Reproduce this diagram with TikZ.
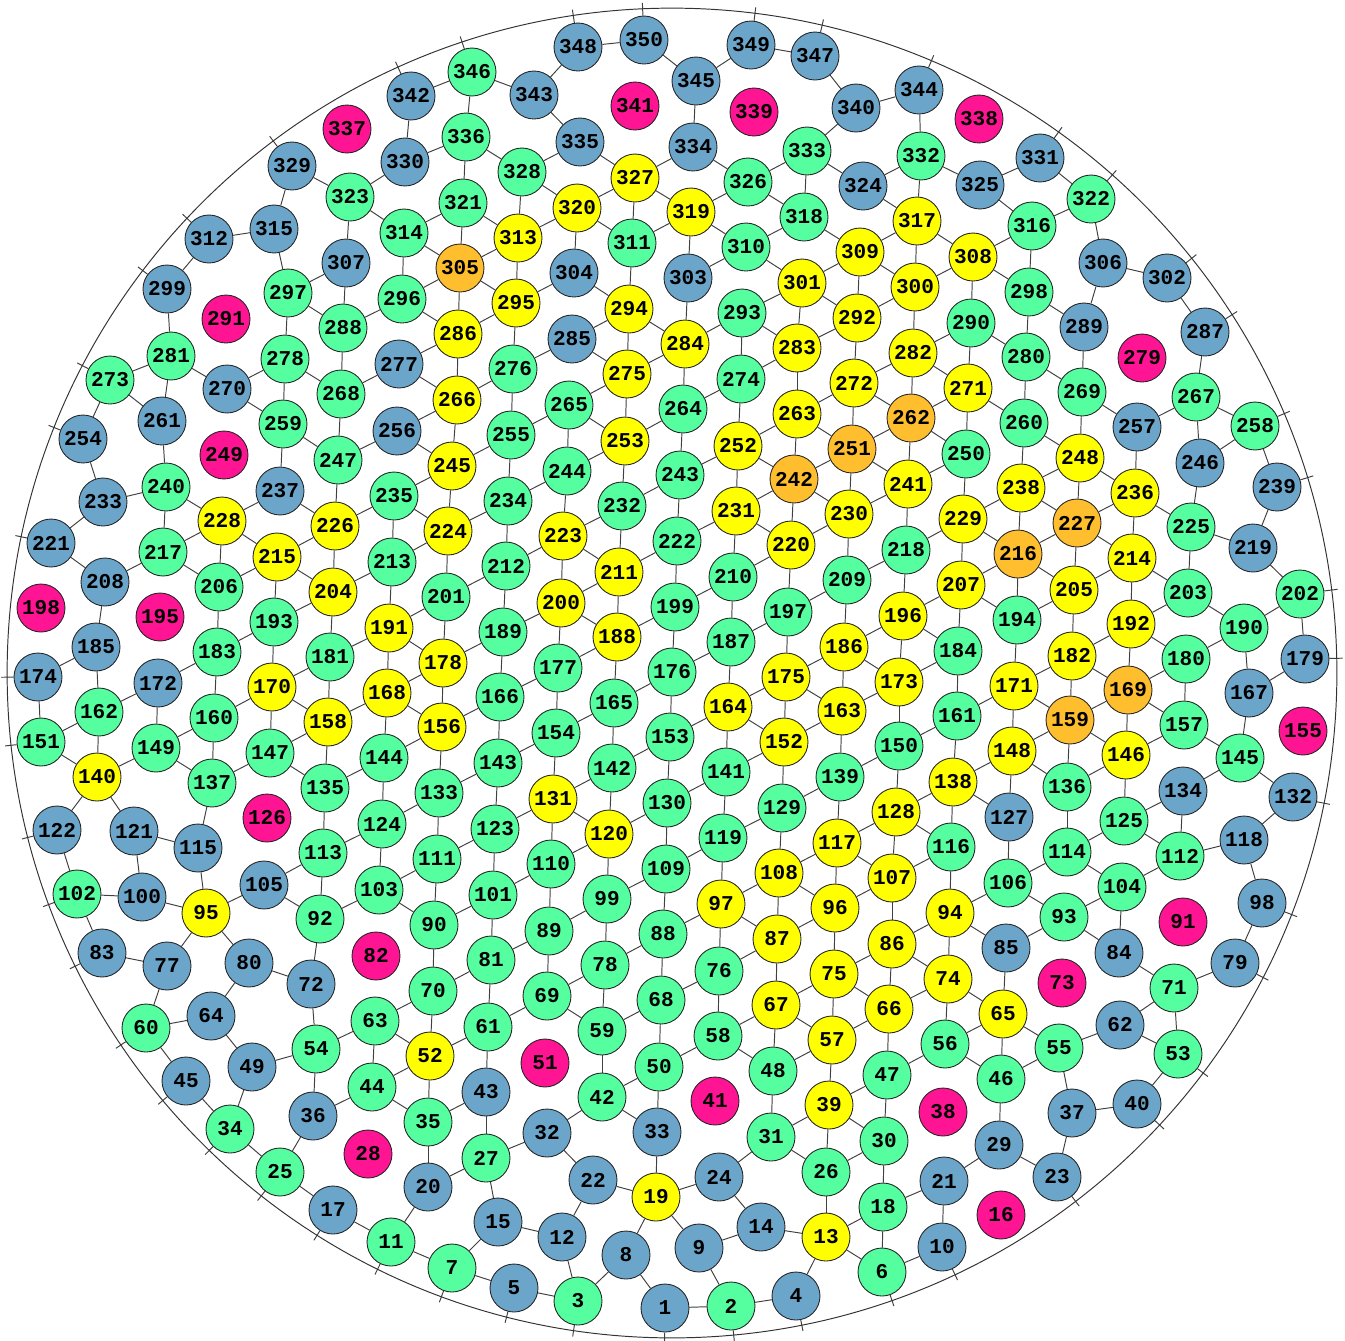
\documentclass[tikz,border=0pt]{standalone}
\usepackage{fontspec}
\setmonofont{Liberation Mono}
\usetikzlibrary{calc,backgrounds}
\definecolor{cb}{RGB}{108,165,202}
\definecolor{cg}{RGB}{85,255,160}
\definecolor{cy}{RGB}{255,255,0}
\definecolor{co}{RGB}{255,190,45}
\definecolor{cm}{RGB}{255,20,147}
\begin{document}
\begin{tikzpicture}[x=0.02cm,y=-0.02cm,
  disc/.style={circle,draw=black!85,line width=0.5pt,minimum size=0.96cm,inner sep=0pt,font=\ttfamily\bfseries\fontsize{12}{12}\selectfont},
  link/.style={draw=black!75,line width=0.55pt}]
\useasboundingbox (0,0) rectangle (1345,1340);
\coordinate (O) at (672,673);
\draw[black!80,line width=0.55pt] (O) circle[radius=13.3cm];
% discs, numbered from the bottom up
\foreach \n/\x/\y/\c in {1/665/1308/b,2/731/1306/g,3/578/1301/g,4/796/1296/b,5/514/1288/b,6/882/1272/g,7/452/1268/g,8/626/1255/b,9/699/1248/b,10/942/1247/b,
11/391/1242/g,12/562/1237/b,13/826/1237/y,14/761/1227/b,15/498/1222/b,16/1001/1215/m,17/333/1210/b,18/883/1207/g,19/656/1197/y,20/428/1187/b,
21/944/1181/b,22/593/1180/b,23/1057/1177/b,24/719/1177/b,25/280/1172/g,26/826/1172/g,27/486/1158/g,28/368/1154/m,29/999/1145/b,30/884/1141/g,
31/771/1137/g,32/547/1133/b,33/657/1132/b,34/230/1129/g,35/428/1122/g,36/313/1116/b,37/1072/1113/b,38/943/1112/m,39/829/1105/y,40/1137/1104/b,
41/715/1101/m,42/602/1097/g,43/486/1092/b,44/372/1087/g,45/186/1081/b,46/1001/1079/g,47/887/1075/g,48/773/1071/g,49/252/1067/b,50/659/1067/g,
51/545/1063/m,52/430/1056/y,53/1178/1054/g,54/316/1049/g,55/1059/1048/g,56/945/1044/g,57/832/1040/y,58/718/1036/g,59/602/1031/g,60/146/1028/g,
61/488/1027/g,62/1120/1025/b,63/375/1021/g,64/211/1016/b,65/1003/1014/y,66/889/1009/y,67/776/1005/y,68/661/1000/g,69/547/996/g,70/433/991/g,
71/1174/988/g,72/311/984/b,73/1062/983/m,74/948/979/y,75/834/974/y,76/719/971/g,77/167/966/b,78/605/965/g,79/1235/963/b,80/249/963/b,
81/491/960/g,82/376/956/m,83/102/953/b,84/1119/953/b,85/1006/948/b,86/892/944/y,87/777/939/y,88/663/934/g,89/549/931/g,90/434/925/g,
91/1183/922/m,92/320/919/g,93/1064/917/g,94/950/913/y,95/206/913/y,96/835/908/y,97/721/904/y,98/1262/903/b,99/607/899/g,100/142/897/b,
101/493/895/g,102/77/894/g,103/379/890/g,104/1122/887/g,105/264/885/b,106/1008/883/g,107/892/878/y,108/779/873/y,109/666/869/g,110/551/864/g,
111/437/859/g,112/1180/856/g,113/323/853/g,114/1067/852/g,115/198/848/b,116/951/847/g,117/837/843/y,118/1244/840/b,119/723/838/g,120/609/834/y,
121/134/831/b,122/57/830/b,123/495/829/g,124/382/824/g,125/1124/821/g,126/267/818/m,127/1009/817/b,128/896/812/y,129/782/808/g,130/667/803/g,
131/553/799/y,132/1293/797/b,133/439/793/g,134/1183/791/b,135/325/788/g,136/1067/787/g,137/212/783/g,138/953/782/y,139/840/777/g,140/97/777/y,
141/726/772/g,142/612/768/g,143/498/763/g,144/384/758/g,145/1240/758/g,146/1126/755/y,147/270/753/g,148/1012/751/y,149/156/748/g,150/899/746/g,
151/41/742/g,152/784/742/y,153/670/737/g,154/556/733/g,155/1303/731/m,156/442/727/y,157/1184/725/g,158/328/722/y,159/1070/720/o,160/214/718/g,
161/957/716/g,162/99/712/g,163/842/711/y,164/728/707/y,165/614/703/g,166/500/697/g,167/1249/693/b,168/387/693/y,169/1128/690/o,170/272/687/y,
171/1014/686/y,172/158/683/b,173/899/682/y,174/38/677/b,175/786/677/y,176/672/672/g,177/558/668/g,178/443/663/y,179/1305/659/b,180/1186/659/g,
181/330/657/g,182/1072/656/y,183/217/652/g,184/958/651/g,185/96/647/b,186/844/647/y,187/731/642/g,188/617/637/y,189/503/632/g,190/1244/628/g,
191/389/628/y,192/1131/624/y,193/274/622/g,194/1017/620/g,195/160/617/m,196/903/616/y,197/788/612/g,198/41/608/m,199/675/607/g,200/561/603/y,
201/446/597/g,202/1300/594/g,203/1188/593/g,204/333/592/y,205/1074/590/y,206/219/587/g,207/961/585/y,208/105/582/b,209/847/580/g,210/733/577/g,
211/619/572/y,212/506/566/g,213/392/562/g,214/1132/558/y,215/277/557/y,216/1018/554/o,217/163/552/g,218/906/550/g,219/1253/548/b,220/791/545/y,
221/51/543/b,222/677/541/g,223/563/536/y,224/448/531/y,225/1191/527/g,226/335/526/y,227/1077/523/o,228/222/521/y,229/963/519/y,230/849/514/y,
231/736/511/y,232/622/506/g,233/103/502/b,234/508/501/g,235/394/496/g,236/1135/493/y,237/280/491/b,238/1021/488/y,239/1277/487/b,240/166/487/g,
241/908/484/y,242/794/479/o,243/680/475/g,244/567/471/g,245/452/466/y,246/1200/463/b,247/338/460/g,248/1080/458/y,249/224/455/m,250/966/454/g,
251/852/449/o,252/738/446/y,253/625/441/y,254/83/439/b,255/511/435/g,256/397/431/b,257/1137/427/b,258/1255/426/g,259/283/424/g,260/1024/423/g,
261/162/421/b,262/911/418/o,263/797/414/y,264/683/409/g,265/569/405/g,266/457/400/y,267/1196/397/g,268/341/394/g,269/1082/392/g,270/227/389/b,
271/968/388/y,272/854/383/y,273/110/380/g,274/741/379/g,275/627/374/y,276/513/369/g,277/399/364/b,278/285/359/g,279/1142/358/m,280/1026/357/g,
281/171/356/g,282/913/353/y,283/797/348/y,284/685/344/y,285/572/339/b,286/458/334/y,287/1205/332/b,288/343/328/g,289/1084/327/b,290/971/323/g,
291/226/319/m,292/857/318/y,293/742/313/g,294/629/309/y,295/516/303/y,296/402/299/g,297/288/293/g,298/1029/292/g,299/167/289/b,300/915/287/y,
301/802/283/y,302/1167/278/b,303/688/278/b,304/574/273/b,305/460/268/o,306/1103/263/b,307/346/263/b,308/973/257/y,309/860/252/y,310/746/247/g,
311/632/243/g,312/209/239/b,313/518/238/y,314/404/233/g,315/274/229/b,316/1032/226/g,317/917/221/y,318/804/217/g,319/691/212/y,320/577/208/y,
321/463/203/g,322/1091/199/g,323/350/197/g,324/863/186/b,325/980/185/b,326/748/182/g,327/635/178/y,328/522/172/g,329/292/166/b,330/405/162/b,
331/1040/158/b,332/921/156/g,333/807/151/g,334/693/147/b,335/580/142/b,336/466/137/g,337/347/129/m,338/979/119/m,339/754/112/m,340/856/108/b,
341/635/106/m,342/411/96/b,343/534/95/b,344/919/90/b,345/696/81/b,346/472/72/g,347/815/56/b,348/578/47/b,349/751/45/b,350/644/40/b}
  \node[disc,fill=c\c] (n\n) at (\x,\y) {\n};
\begin{pgfonlayer}{background}
% contacts between discs
\foreach \a/\b in {1/2,1/8,2/4,2/9,3/5,3/8,3/12,4/13,5/7,6/10,6/13,6/18,7/11,7/15,8/19,9/14,9/19,10/21,11/17,11/20,12/15,12/22,13/14,13/18,13/26,14/24,15/27,17/25,18/21,18/30,19/22,19/24,19/33,20/27,20/35,21/29,22/32,23/29,23/37,24/31,25/34,25/36,26/30,26/31,26/39,27/32,27/43,29/46,30/39,30/47,31/39,31/48,32/42,33/42,33/50,34/45,34/49,35/43,35/44,35/52,36/44,36/54,37/40,37/55,39/47,39/57,40/53,42/50,42/59,43/61,44/52,44/63,45/60,46/55,46/56,46/65,47/56,47/66,48/57,48/58,48/67,49/54,49/64,50/58,50/68,52/61,52/63,52/70,53/62,53/71,54/63,54/72,55/62,55/65,56/65,56/74,57/66,57/67,57/75,58/67,58/76,59/68,59/69,59/78,60/64,60/77,61/69,61/81,62/71,63/70,64/80,65/74,65/85,66/74,66/75,66/86,67/75,67/87,68/76,68/88,69/78,69/89,70/81,70/90,71/79,71/84,72/80,72/92,74/86,74/94,75/86,75/96,76/87,76/97,77/83,77/95,78/88,78/99,79/98,80/95,81/89,81/101,83/102,84/93,84/104,85/93,85/94,86/94,86/107,87/96,87/97,87/108,88/97,88/109,89/99,89/110,90/101,90/103,90/111,92/103,92/105,92/113,93/104,93/106,94/106,94/116,95/100,95/105,95/115,96/107,96/108,96/117,97/108,97/119,98/118,99/109,99/120,100/102,100/121,101/110,101/123,102/122,103/111,103/124,104/112,104/114,105/113,106/114,106/127,107/116,107/117,107/128,108/117,108/129,109/119,109/130,110/120,110/131,111/123,111/133,112/118,112/125,112/134,113/124,113/135,114/125,114/136,115/121,115/137,116/128,116/138,117/128,117/139,118/132,119/129,119/141,120/130,120/131,120/142,121/140,122/140,123/131,123/143,124/133,124/144,125/134,125/146,127/138,127/148,128/138,128/150,129/139,129/152,130/141,130/153,131/142,131/154,132/145,133/143,133/156,134/145,135/144,135/147,135/158,136/146,136/148,136/159,137/147,137/149,137/160,138/148,138/161,139/150,139/163,140/149,140/151,140/162,141/152,141/164,142/153,142/165,143/154,143/166,144/156,144/168,145/157,145/167,146/157,146/159,146/169,147/158,147/170,148/159,148/171,149/160,149/172,150/161,150/173,151/162,151/174,152/163,152/164,152/175,153/164,153/176,154/165,154/177,156/166,156/168,156/178,157/169,157/180,158/168,158/170,158/181,159/169,159/171,159/182,160/170,160/183,161/171,161/184,162/172,162/185,163/173,163/175,163/186,164/175,164/187,165/176,165/188,166/177,166/189,167/179,167/190,168/178,168/191,169/180,169/182,169/192,170/181,170/193,171/182,171/194,172/183,173/184,173/186,173/196,174/185,175/186,175/197,176/187,176/199,177/188,177/200,178/189,178/191,178/201,179/202,180/190,180/192,181/191,181/204,182/192,182/205,183/193,183/206,184/196,184/207,185/208,186/196,186/209,187/197,187/210,188/199,188/200,188/211,189/200,189/212,190/202,190/203,191/201,191/213,192/203,192/214,193/204,193/215,194/205,194/207,194/216,196/207,196/218,197/209,197/220,199/210,199/222,200/211,200/223,201/212,201/224,202/219,203/214,203/225,204/213,204/215,204/226,205/214,205/216,205/227,206/215,206/217,206/228,207/216,207/229,208/217,208/221,209/218,209/230,210/220,210/231,211/222,211/223,211/232,212/223,212/234,213/224,213/235,214/227,214/236,215/226,215/228,216/227,216/229,216/238,217/228,217/240,218/229,218/241,219/225,219/239,220/230,220/231,220/242,221/233,222/231,222/243,223/232,223/244,224/234,224/235,224/245,225/236,225/246,226/235,226/237,226/247,227/236,227/238,227/248,228/237,228/240,229/238,229/250,230/241,230/242,230/251,231/242,231/252,232/243,232/253,233/240,233/254,234/244,234/255,235/245,236/248,236/257,237/259,238/248,238/260,239/258,240/261,241/250,241/251,241/262,242/251,242/252,242/263,243/252,243/264,244/253,244/265,245/255,245/256,245/266,246/258,246/267,247/256,247/259,247/268,248/260,248/269,250/262,250/271,251/262,251/263,251/272,252/263,252/274,253/264,253/265,253/275,254/273,255/265,255/276,256/266,257/267,257/269,258/267,259/270,259/278,260/271,260/280,261/273,261/281,262/271,262/272,262/282,263/272,263/283,264/274,264/284,265/275,266/276,266/277,266/286,267/287,268/277,268/278,268/288,269/280,269/289,270/278,270/281,271/282,271/290,272/282,272/292,273/281,274/283,274/293,275/284,275/285,275/294,276/285,276/295,277/286,278/297,280/290,280/298,281/299,282/290,282/300,283/292,283/293,283/301,284/293,284/294,284/303,285/294,286/295,286/296,286/305,287/302,288/296,288/297,288/307,289/298,289/306,290/308,292/300,292/301,292/309,293/301,294/304,294/311,295/304,295/305,295/313,296/305,296/314,297/307,297/315,298/308,298/316,299/312,300/308,300/309,300/317,301/309,301/310,302/306,303/310,303/319,304/320,305/313,305/314,305/321,306/322,307/323,308/316,308/317,309/317,309/318,310/318,310/319,311/319,311/320,311/327,312/315,313/320,313/321,313/328,314/321,314/323,315/329,316/322,316/325,317/324,317/332,318/326,318/333,319/326,319/327,320/327,320/328,321/336,322/331,323/329,323/330,324/332,324/333,325/331,325/332,326/333,326/334,327/334,327/335,328/335,328/336,330/336,330/342,332/344,333/340,334/345,335/343,336/346,340/344,340/347,342/346,343/346,343/348,345/349,345/350,347/349,348/350}
  \draw[link] (n\a) -- (n\b);
% contacts with the wall
\foreach \n in {1,2,3,4,5,6,7,10,11,17,23,25,34,40,45,53,60,79,83,98,102,122,132,151,174,179,202,221,239,254,258,273,287,299,302,312,322,329,331,342,344,346,347,348,349,350}
  \draw[link] (n\n) -- ($(O)!13.42cm!(n\n)$);
\end{pgfonlayer}
\end{tikzpicture}
\end{document}
